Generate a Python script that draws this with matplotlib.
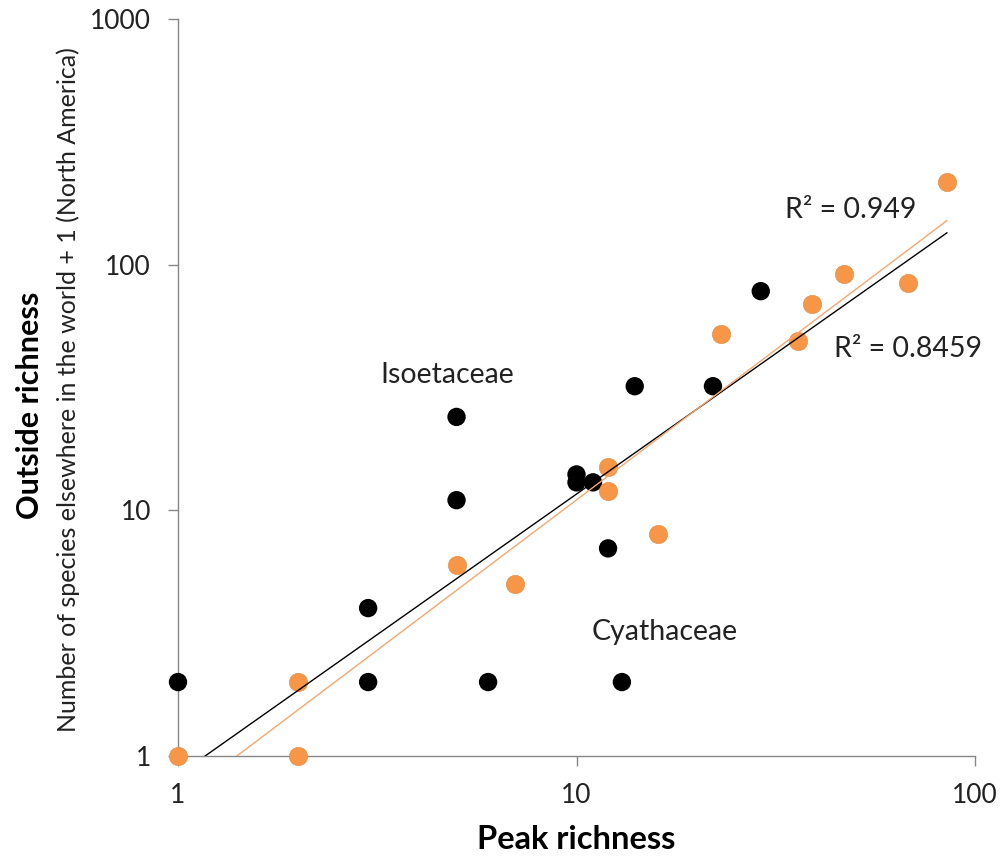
import numpy as np
import matplotlib
matplotlib.use("Agg")
import matplotlib.pyplot as plt

# Peak richness (x) and outside richness + 1 (y) for the two groups
black_x = [1, 3, 3, 5, 5, 6, 10, 10, 11, 12, 13, 14, 22, 29]
black_y = [2, 4, 2, 24, 11, 2, 14, 13, 13, 7, 2, 32, 32, 78]

orange_x = [1, 2, 2, 5, 7, 12, 12, 16, 23, 36, 39, 47, 68, 85]
orange_y = [1, 1, 2, 6, 5, 15, 12, 8, 52, 49, 69, 92, 84, 217]

# Power-law trendlines y = a * x^b
black_fit = (0.836, 1.144)
orange_fit = (0.66, 1.223)
fit_xmax = 85

black_r2 = "R\u00b2 = 0.8459"
orange_r2 = "R\u00b2 = 0.949"

x_ticks = [1, 10, 100]
y_ticks = [1, 10, 100, 1000]

FONT = ["Lato", "DejaVu Sans"]
ORANGE = "#F79646"
ORANGE_LINE = "#F9A66C"
GREY = "#868686"

fig = plt.figure(figsize=(10.02, 8.60), dpi=100)
ax = fig.add_axes([178 / 1002, 1 - 756 / 860, (975 - 178) / 1002, (756 - 19) / 860])

ax.set_xscale("log")
ax.set_yscale("log")
ax.set_xlim(1, 100)
ax.set_ylim(1, 1000)

ax.scatter(black_x, black_y, s=175, color="black", edgecolors="none",
           zorder=3, clip_on=False)
ax.scatter(orange_x, orange_y, s=175, color=ORANGE, edgecolors="#E08A40",
           linewidths=0.4, zorder=3, clip_on=False)

xs = np.logspace(0, np.log10(fit_xmax), 200)
ax.plot(xs, black_fit[0] * xs ** black_fit[1], color="black", lw=1.0, zorder=4)
ax.plot(xs, orange_fit[0] * xs ** orange_fit[1], color=ORANGE_LINE, lw=1.0, zorder=4)

for side in ("top", "right"):
    ax.spines[side].set_visible(False)
for side in ("left", "bottom"):
    ax.spines[side].set_color(GREY)
    ax.spines[side].set_linewidth(1.0)

ax.set_xticks(x_ticks)
ax.set_xticklabels([str(v) for v in x_ticks])
ax.set_yticks(y_ticks)
ax.set_yticklabels([str(v) for v in y_ticks])
ax.minorticks_off()
ax.tick_params(axis="both", which="major", direction="out", length=7.5,
               width=1.0, color=GREY, labelsize=19, labelcolor="#222222")
ax.tick_params(axis="y", pad=12)
ax.tick_params(axis="x", pad=12)
for lab in ax.get_xticklabels() + ax.get_yticklabels():
    lab.set_family(FONT)

ax.set_xlabel("Peak richness", fontsize=23.5, fontweight="bold", family=FONT,
              labelpad=12)

fig.text(0.030, 0.5 - (405 - 430) / 860, "Outside richness", rotation=90,
         ha="center", va="center", fontsize=22, fontweight="bold", family=FONT)
fig.text(0.068, 0.5 - (390 - 430) / 860,
         "Number of species elsewhere in the world + 1 (North America)",
         rotation=90, ha="center", va="center", fontsize=18, family=FONT,
         color="#222222")

txt = dict(fontsize=20.5, family=FONT, color="#222222", ha="center", va="center")
ax.text(4.74, 35.5, "Isoetaceae", **txt)
ax.text(16.6, 3.2, "Cyathaceae", **txt)
ax.text(48.8, 167, orange_r2, **txt)
ax.text(67.9, 45.4, black_r2, **txt)

fig.savefig("out.png", dpi=100)
